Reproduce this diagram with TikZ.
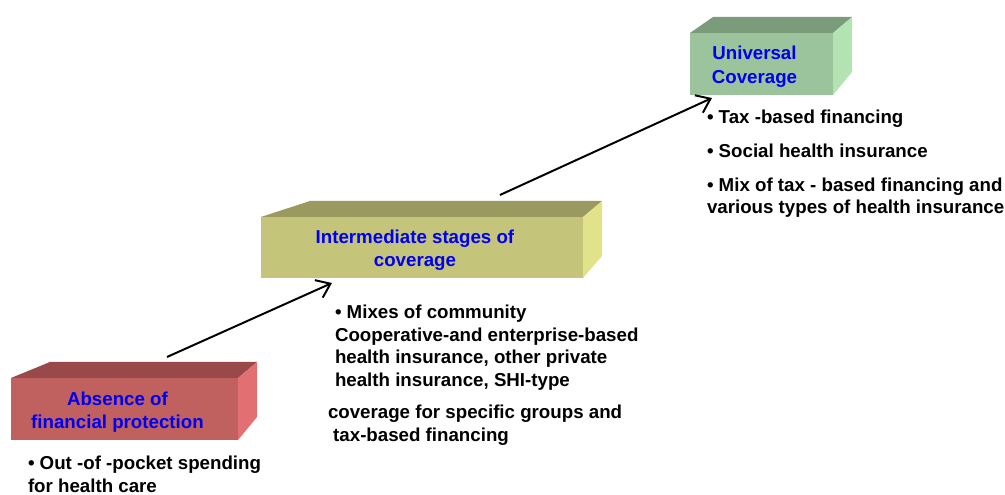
\documentclass[tikz,border=0pt]{standalone}
\usepackage{fontspec}
\setmainfont{Liberation Sans}
\usepackage{xcolor}
\usetikzlibrary{arrows, arrows.meta}
\usetikzlibrary{positioning}
\usetikzlibrary{calc}
\definecolor{RedFront}{RGB}{192,96,95}
\definecolor{RedTop}{RGB}{153,73,74}
\definecolor{RedSide}{RGB}{226,111,114}
\definecolor{OliveFront}{RGB}{196,196,122}
\definecolor{OliveTop}{RGB}{153,153,96}
\definecolor{OliveSide}{RGB}{226,226,138}
\definecolor{GreenFront}{RGB}{156,196,156}
\definecolor{GreenTop}{RGB}{122,156,122}
\definecolor{GreenSide}{RGB}{179,227,179}
\definecolor{TitleBlue}{RGB}{0,0,240}
% top and side of a slab, #1 front node, #2 slant of left edge
\newcommand{\slabfaces}[4]{%
	\fill[#3] (#1.north west) -- ++(#2,-16) -- ($(#1.north east)+(19,-16)$) -- (#1.north east) -- cycle;
	\fill[#4] (#1.north east) -- ++(19,-16) -- ++(0,55) -- (#1.south east) -- cycle;}
\tikzset{
	slab/.style={rectangle, inner sep=0pt, outer sep=0pt},
	slabtitle/.style={align=center, text=TitleBlue, inner sep=0pt, xshift=-5pt, yshift=-2pt,
		font=\fontsize{13.3}{16.5}\selectfont\bfseries},
	bullets/.style={inner sep=0pt, outer sep=0pt, align=left, anchor=north west,
		font=\fontsize{13.3}{16}\selectfont\bfseries},
	stairarrow/.style={-{Straight Barb[length=3.2mm,width=4.8mm]}, line width=1.4pt},
}

\begin{document}
\begin{tikzpicture}[x=0.025cm, y=-0.025cm]
	\useasboundingbox (0,0) rectangle (1005,494);
	% draw the three slabs
	\node[slab, fill=RedFront, minimum width=5.675cm, minimum height=1.55cm,
		label={[slabtitle]center:Absence of\\financial protection}] (absence) at (124.5,409) {};
	\slabfaces{absence}{39}{RedTop}{RedSide}
	\node[slab, fill=OliveFront, minimum width=8.05cm, minimum height=1.525cm,
		label={[slabtitle]center:Intermediate stages of\\coverage}] (inter) at (422,247.5) {};
	\slabfaces{inter}{49}{OliveTop}{OliveSide}
	\node[slab, fill=GreenFront, minimum width=3.575cm, minimum height=1.55cm,
		label={[slabtitle, font=\fontsize{13.3}{17}\selectfont\bfseries]center:Universal\\Coverage}] (universal) at (761.5,64) {};
	\slabfaces{universal}{23}{GreenTop}{GreenSide}
	
	% add arrows
	\draw[stairarrow] ($(absence.north)+(42.5,-21)$) -- ($(inter.south west)+(71,5)$);
	\draw[stairarrow] ($(inter.north west)+(239,-22)$) -- ($(universal.south west)+(22,3)$);
	
	% financing under each stage
	\node[bullets] (outpocket) at (28,456) {\textbullet{} Out -of -pocket spending\\for health care};
	\node[bullets] (mixes) at (335,305) {\textbullet{} Mixes of community\\Cooperative-and enterprise-based\\health insurance, other private\\health insurance, SHI-type};
	\node[bullets] (groups) at (328,405) {coverage for specific groups and\\\hspace{0.28em}tax-based financing};
	\node[bullets] (schemes) at (707,110) {\textbullet{} Tax -based financing\\[8pt]\textbullet{} Social health insurance\\[8pt]\textbullet{} Mix of tax - based financing and\\various types of health insurance};
\end{tikzpicture}
\end{document}
